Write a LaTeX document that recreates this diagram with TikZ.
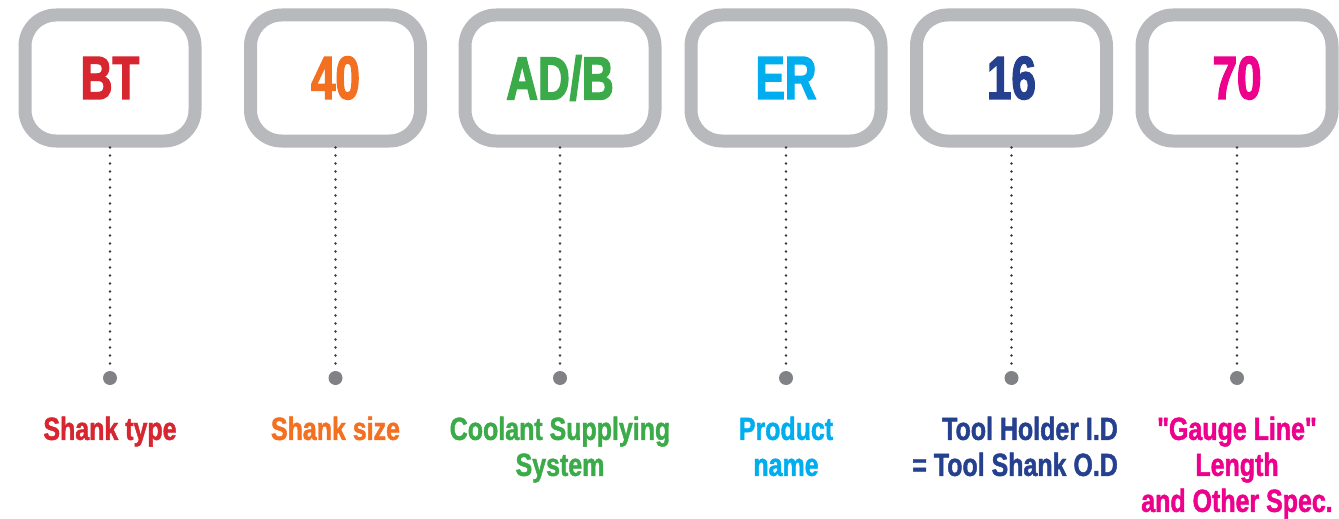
\documentclass[tikz,border=0pt]{standalone}
\usepackage{fontspec}
\setmainfont{Liberation Sans}
\newfontfamily\boxfont{Liberation Sans Bold}[FakeStretch=0.72, FakeBold=2.2]
\newfontfamily\labfont{Liberation Sans Bold}[FakeStretch=0.78, FakeBold=1.4]
\definecolor{cred}{HTML}{D7262F}
\definecolor{corange}{HTML}{F37021}
\definecolor{cgreen}{HTML}{3BAA49}
\definecolor{ccyan}{HTML}{00AEEF}
\definecolor{cnavy}{HTML}{25408F}
\definecolor{cmag}{HTML}{EC008C}
\definecolor{boxgray}{HTML}{B8B9BD}
\definecolor{circgray}{HTML}{808285}
\definecolor{dotgray}{HTML}{3C3C3C}
\tikzset{
  codebox/.style={draw=boxgray, line width=13pt, rounded corners=31pt, minimum height=126pt, fill=white, inner sep=0pt,
    font=\boxfont\fontsize{61}{61}\selectfont},
  narrowbox/.style={codebox, minimum width=170pt},
  widebox/.style={codebox, minimum width=190pt},
  labeltext/.style={font=\labfont\fontsize{32}{36}\selectfont, align=center, anchor=north, inner sep=0pt},
  dotline/.style={draw=dotgray, line width=2.8pt, line cap=round, dash pattern=on 0pt off 8pt, shorten >=5pt},
  enddot/.style={circle, fill=circgray, minimum size=14pt, inner sep=0pt}
}
\begin{document}
\begin{tikzpicture}[x=1pt,y=-1pt]
\useasboundingbox (0,0) rectangle (1339,519);
\node[narrowbox, text=cred] (b1) at (110,78) {BT};
\node[narrowbox, text=corange] (b2) at (335.5,78) {40};
\node[widebox, text=cgreen] (b3) at (560,78) {AD/B};
\node[widebox, text=ccyan] (b4) at (786,78) {ER};
\node[widebox, text=cnavy] (b5) at (1011.5,78) {16};
\node[widebox, text=cmag] (b6) at (1237,78) {70};

\node[enddot] (c1) at (110,378) {};
\node[enddot] (c2) at (335.5,378) {};
\node[enddot] (c3) at (560,378) {};
\node[enddot] (c4) at (786,378) {};
\node[enddot] (c5) at (1011.5,378) {};
\node[enddot] (c6) at (1237,378) {};

\foreach \i in {1,...,6}{\draw[dotline] (b\i) -- (c\i);}

\node[labeltext, text=cred] (l1) at (110,416.5) {Shank type};
\node[labeltext, text=corange] (l2) at (335.5,416.5) {Shank size};
\node[labeltext, text=cgreen] (l3) at (560,416.5) {Coolant Supplying\\System};
\node[labeltext, text=ccyan] (l4) at (786,416.5) {Product\\name};
\node[labeltext, text=cnavy, anchor=north east, align=right] (l5) at (1118,416.5) {Tool Holder I.D\\= Tool Shank O.D};
\node[labeltext, text=cmag] (l6) at (1237,416.5) {"Gauge Line"\\Length\\and Other Spec.};
\end{tikzpicture}
\end{document}
